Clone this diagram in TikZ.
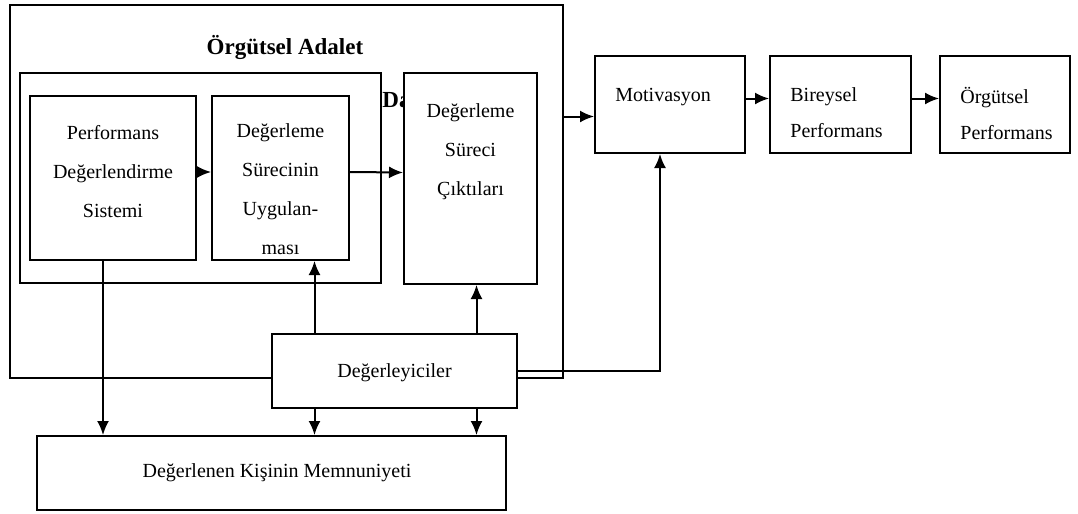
\documentclass[tikz,border=0pt]{standalone}
\usepackage{fontspec}
\setmainfont{Liberation Serif}
\usetikzlibrary{arrows.meta}

\tikzset{
  kutu/.style={draw, line width=1pt, fill=white, inner sep=0pt},
  yazi/.style={font=\fontsize{10}{19.5}\selectfont, align=center, inner sep=0pt},
  ok/.style={-{Latex[length=7pt,width=6pt]}, line width=1pt}
}

\begin{document}
\begin{tikzpicture}[x=0.5pt, y=-0.5pt]
  \useasboundingbox (0,0) rectangle (1078,514);

  % adalet kutulari
  \node[kutu, line width=0.9pt, minimum width=276.5pt, minimum height=186.5pt] (dis) at (286.5,191.5) {};
  \node[font=\fontsize{11.5}{14}\selectfont\bfseries] (baslik) at (285,47) {Örgütsel Adalet};
  \node[kutu, minimum width=180.5pt, minimum height=105pt] (ic) at (200.5,178) {};
  \node[font=\fontsize{11.5}{14}\selectfont\bfseries, anchor=west, inner sep=0pt] (da) at (382,100) {Da};

  \node[kutu, minimum width=83pt, minimum height=82pt] (pds) at (113,178) {};
  \node[yazi] (pdsy) at (113,172) {Performans\\Değerlendirme\\Sistemi};
  \node[kutu, minimum width=68.5pt, minimum height=82pt] (dsu) at (280.5,178) {};
  \node[yazi] (dsuy) at (280.5,189.5) {Değerleme\\Sürecinin\\Uygulan-\\ması};
  \node[kutu, minimum width=66.5pt, minimum height=105.5pt] (dsc) at (470.5,178.5) {};
  \node[yazi] (dscy) at (470.5,152) {Değerleme\\Süreci\\Çıktıları};

  % sag taraf
  \node[kutu, minimum width=75pt, minimum height=48.5pt] (mot) at (670,104.5) {};
  \node[yazi, anchor=west] (moty) at (615,97) {Motivasyon};
  \node[kutu, minimum width=70.5pt, minimum height=48.5pt] (bir) at (840.5,104.5) {};
  \node[yazi, align=left, anchor=west, font=\fontsize{10}{18}\selectfont] (biry) at (790,113) {Bireysel\\Performans};
  \node[kutu, minimum width=65pt, minimum height=48.5pt] (org) at (1005,104.5) {};
  \node[yazi, align=left, anchor=west, font=\fontsize{10}{18}\selectfont] (orgy) at (960,113) {Örgütsel\\Performans};

  % alt kutular
  \node[kutu, minimum width=122.5pt, minimum height=37pt] (deg) at (394.5,371) {};
  \node[yazi] (degy) at (394.5,373) {Değerleyiciler};
  \node[kutu, minimum width=234.5pt, minimum height=37pt] (mem) at (271.5,473) {};
  \node[yazi] (memy) at (277,473) {Değerlenen Kişinin Memnuniyeti};

  \draw[ok] ([yshift=3pt]pds.east) -- ([yshift=3pt]dsu.west);
  \draw[ok] ([yshift=3pt]dsu.east) -- ([yshift=3pt]dsc.west);
  \coordinate (motgir) at ([yshift=-6pt]mot.west);
  \draw[ok] (dis.east |- motgir) -- (motgir);
  \draw[ok] ([yshift=3pt]mot.east) -- ([yshift=3pt]bir.west);
  \draw[ok] ([yshift=3pt]bir.east) -- ([yshift=3pt]org.west);

  \draw[ok] ([xshift=-5pt]pds.south) -- ([xshift=-5pt]pds.south |- mem.north);
  \draw[ok] ([xshift=-40pt]deg.north) -- ([xshift=-40pt]deg.north |- dsu.south);
  \draw[ok] ([xshift=41pt]deg.north) -- ([xshift=41pt]deg.north |- dsc.south);
  \draw[ok] ([xshift=-40pt]deg.south) -- ([xshift=-40pt]deg.south |- mem.north);
  \draw[ok] ([xshift=41pt]deg.south) -- ([xshift=41pt]deg.south |- mem.north);
  \draw[ok] (deg.east) -| ([xshift=-5pt]mot.south);
\end{tikzpicture}
\end{document}
